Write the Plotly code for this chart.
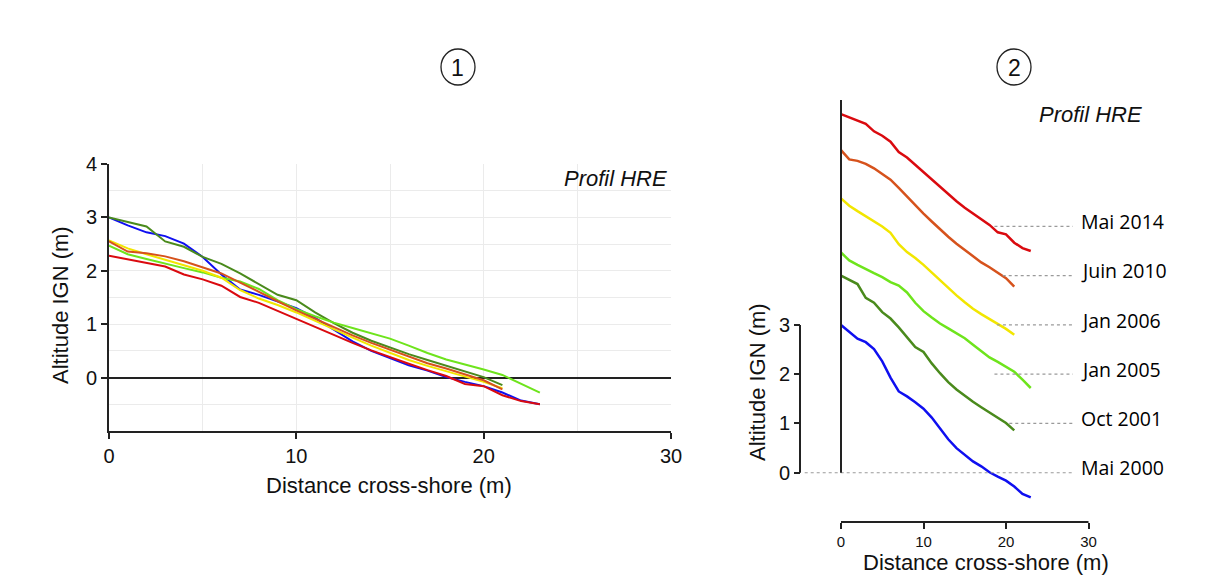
import plotly.graph_objects as go

# ---------------- data ----------------
dist_long = [0, 1, 2, 3, 4, 5, 6, 7, 8, 9, 10, 11, 12, 13, 14, 15, 16, 17, 18, 19, 20, 21, 22, 23]
dist_short = [0, 1, 2, 3, 4, 5, 6, 7, 8, 9, 10, 11, 12, 13, 14, 15, 16, 17, 18, 19, 20, 21]

mai_2000 = [3.00, 2.85, 2.72, 2.65, 2.51, 2.26, 1.93, 1.65, 1.55, 1.43, 1.30, 1.12,
            0.90, 0.68, 0.50, 0.36, 0.23, 0.13, 0.01, -0.08, -0.16, -0.28, -0.43, -0.50]
oct_2001 = [3.00, 2.92, 2.83, 2.55, 2.45, 2.26, 2.13, 1.95, 1.75, 1.55, 1.45, 1.22,
            1.02, 0.84, 0.69, 0.56, 0.44, 0.33, 0.22, 0.12, 0.01, -0.14]
jan_2005 = [2.47, 2.31, 2.22, 2.13, 2.05, 1.97, 1.87, 1.80, 1.66, 1.45, 1.28, 1.15,
            1.03, 0.93, 0.83, 0.73, 0.60, 0.46, 0.34, 0.25, 0.15, 0.05, -0.11, -0.28]
jan_2006 = [2.57, 2.42, 2.31, 2.21, 2.11, 2.00, 1.87, 1.64, 1.48, 1.36, 1.22, 1.06,
            0.90, 0.75, 0.60, 0.46, 0.33, 0.22, 0.12, 0.02, -0.08, -0.20]
juin_2010 = [2.55, 2.36, 2.33, 2.27, 2.18, 2.07, 1.95, 1.78, 1.60, 1.43, 1.26, 1.10,
             0.94, 0.79, 0.65, 0.52, 0.39, 0.27, 0.17, 0.06, -0.05, -0.22]
mai_2014 = [2.28, 2.21, 2.15, 2.08, 1.93, 1.84, 1.72, 1.51, 1.40, 1.25, 1.09, 0.94,
            0.79, 0.65, 0.51, 0.38, 0.26, 0.14, 0.03, -0.12, -0.16, -0.33, -0.44, -0.50]

labels = ["Mai 2000", "Oct 2001", "Jan 2005", "Jan 2006", "Juin 2010", "Mai 2014"]
x_series = [dist_long, dist_short, dist_long, dist_short, dist_short, dist_long]
y_series = [mai_2000, oct_2001, jan_2005, jan_2006, juin_2010, mai_2014]
stack_offsets = [0, 1, 2, 3, 4, 5]

x_ticks = [0, 10, 20, 30]
y_ticks_left = [0, 1, 2, 3, 4]
y_ticks_right = [0, 1, 2, 3]

# ---------------- style ----------------
colors = ["#0f0ff0", "#4a8a1c", "#6ee41c", "#f2e600", "#d6521c", "#da0a0f"]
dot_start = [-4.4, 20.4, 18.6, 18.9, 19.6, 18.6]   # where dotted guide lines begin (panel 2)
W, H = 1211, 583
PAGE_OFF = 8   # body margin of the html page
FONT = "Liberation Sans, Arial, sans-serif"


def px(x):
    return (x - PAGE_OFF) / W


def py(y):
    return 1 - (y - PAGE_OFF) / H


fig = go.Figure()

# panel 1
for lab, xs, ys, c in zip(labels, x_series, y_series, colors):
    fig.add_trace(go.Scatter(x=xs, y=ys, mode="lines", name=lab,
                             line=dict(color=c, width=2),
                             xaxis="x", yaxis="y", showlegend=False))

# panel 2 (stacked)
for lab, xs, ys, c, off in zip(labels, x_series, y_series, colors, stack_offsets):
    fig.add_trace(go.Scatter(x=xs, y=[v + off for v in ys], mode="lines", name=lab,
                             line=dict(color=c, width=2.5),
                             xaxis="x2", yaxis="y2", showlegend=False))

shapes = []
annotations = []

# dotted guide lines + labels, panel 2
for lab, off, xs0 in zip(labels, stack_offsets, dot_start):
    shapes.append(dict(type="line", xref="x2", yref="y2", x0=xs0, x1=28.1, y0=off, y1=off,
                       line=dict(color="#9a9a9a", width=1.2, dash="dot")))
    annotations.append(dict(xref="x2", yref="y2", x=28.9, y=off + 0.1, text=lab,
                            showarrow=False, xanchor="left", yanchor="middle",
                            font=dict(family="Open Sans, Noto Sans, sans-serif", size=19.5, color="#000")))

# panel 2 vertical line at x=0, y-axis segment, x-axis segment
shapes.append(dict(type="line", xref="x2", yref="y2", x0=0, x1=0, y0=0, y1=7.57,
                   line=dict(color="#222", width=2)))
shapes.append(dict(type="line", xref="paper", yref="y2", x0=px(800), x1=px(800), y0=0, y1=3,
                   line=dict(color="#222", width=2)))
shapes.append(dict(type="line", xref="x2", yref="paper", x0=0, x1=30, y0=py(522), y1=py(522),
                   line=dict(color="#222", width=2)))

# circled panel numbers
for cx, num in [(458, "1"), (1014, "2")]:
    shapes.append(dict(type="circle", xref="paper", yref="paper",
                       x0=px(cx - 17), x1=px(cx + 17), y0=py(67 + 18), y1=py(67 - 18),
                       line=dict(color="#222", width=1.3)))
    annotations.append(dict(xref="paper", yref="paper", x=px(cx), y=py(68), text=num,
                            showarrow=False, xanchor="center", yanchor="middle",
                            font=dict(family=FONT, size=23, color="#111")))

# Profil HRE labels
annotations.append(dict(xref="paper", yref="paper", x=px(669), y=py(178), text="<i>Profil HRE</i>",
                        showarrow=False, xanchor="right", yanchor="middle",
                        font=dict(family=FONT, size=22, color="#111")))
annotations.append(dict(xref="paper", yref="paper", x=px(1144), y=py(115), text="<i>Profil HRE</i>",
                        showarrow=False, xanchor="right", yanchor="middle",
                        font=dict(family=FONT, size=22, color="#111")))

# axis titles
annotations.append(dict(xref="paper", yref="paper", x=px(389), y=py(485), text="Distance cross-shore (m)",
                        showarrow=False, xanchor="center", yanchor="middle",
                        font=dict(family=FONT, size=22, color="#111")))
annotations.append(dict(xref="paper", yref="paper", x=px(60), y=py(305), text="Altitude IGN (m)",
                        showarrow=False, xanchor="center", yanchor="middle", textangle=-90,
                        font=dict(family=FONT, size=22, color="#111")))
annotations.append(dict(xref="paper", yref="paper", x=px(986), y=py(562), text="Distance cross-shore (m)",
                        showarrow=False, xanchor="center", yanchor="middle",
                        font=dict(family=FONT, size=22, color="#111")))
annotations.append(dict(xref="paper", yref="paper", x=px(757), y=py(382), text="Altitude IGN (m)",
                        showarrow=False, xanchor="center", yanchor="middle", textangle=-90,
                        font=dict(family=FONT, size=22, color="#111")))

grid_c = "#ebebeb"
fig.update_layout(
    width=W, height=H,
    autosize=False,
    margin=dict(l=0, r=0, t=0, b=0, pad=0),
    paper_bgcolor="white", plot_bgcolor="white",
    font=dict(family=FONT, color="#111"),
    xaxis=dict(domain=[px(109), px(671)], range=[0, 30], anchor="y", automargin=False,
               tickvals=x_ticks, ticks="outside", ticklen=6, tickwidth=1.5, tickcolor="#222",
               showline=True, linecolor="#222", linewidth=2,
               showgrid=True, gridcolor=grid_c, zeroline=False,
               minor=dict(tickvals=[5, 15, 25], showgrid=True, gridcolor=grid_c, ticks=""),
               tickfont=dict(size=20)),
    yaxis=dict(domain=[py(431), py(164)], range=[-1, 4], anchor="x", automargin=False,
               tickvals=y_ticks_left, ticks="outside", ticklen=6, tickwidth=1.5, tickcolor="#222",
               showline=True, linecolor="#222", linewidth=2,
               showgrid=True, gridcolor=grid_c,
               zeroline=True, zerolinecolor="#222", zerolinewidth=2,
               minor=dict(tickvals=[-0.5, 0.5, 1.5, 2.5, 3.5], showgrid=True, gridcolor=grid_c, ticks=""),
               tickfont=dict(size=20)),
    xaxis2=dict(domain=[px(790), px(1200)], range=[-51 / 8.25, 359 / 8.25], anchor="y2", automargin=False,
                tickvals=x_ticks, ticks="outside", ticklen=6, tickwidth=1.5, tickcolor="#222",
                showline=False, showgrid=False, zeroline=False,
                tickfont=dict(size=15)),
    yaxis2=dict(domain=[py(522), py(100)], range=[-1, 7.566], anchor="free", position=px(800),
                automargin=False,
                tickvals=y_ticks_right, ticks="outside", ticklen=6, tickwidth=1.5, tickcolor="#222",
                showline=False, showgrid=False, zeroline=False,
                tickfont=dict(size=20)),
    shapes=shapes,
    annotations=annotations,
)

fig.write_html("out.html")
